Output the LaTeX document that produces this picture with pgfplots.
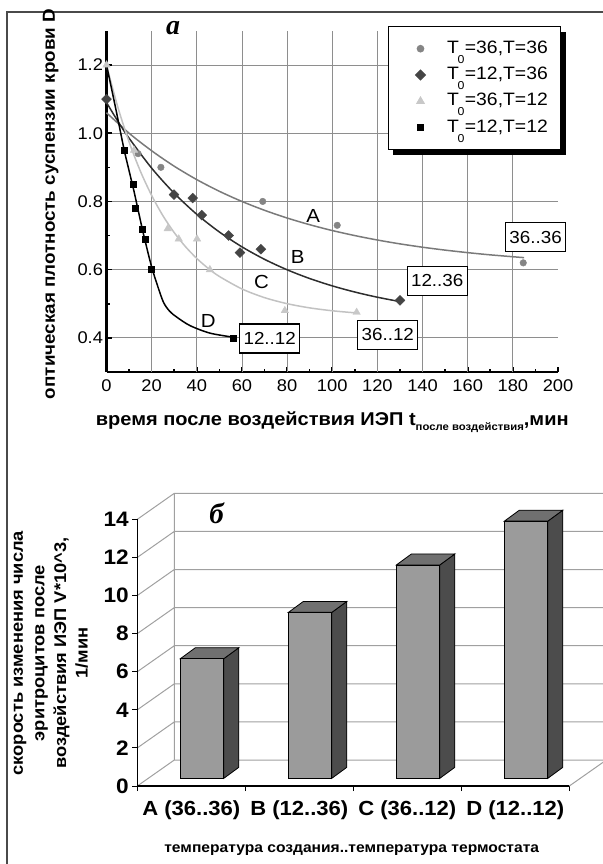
\documentclass[border=0pt]{standalone}
\usepackage{fontspec}
\setmainfont{Liberation Sans}[FakeStretch=1.08]
\newfontfamily\panelfont{Liberation Serif}
\usepackage{pgfplots}
\pgfplotsset{compat=1.18}
\usetikzlibrary{shadows}
\definecolor{framec}{HTML}{4A4A4A}
\definecolor{gridc}{HTML}{8E8E8E}
\definecolor{ptA}{HTML}{858585}
\definecolor{lnA}{HTML}{7A7A7A}
\definecolor{ptB}{HTML}{454545}
\definecolor{lnB}{HTML}{2E2E2E}
\definecolor{ptC}{HTML}{C8C8C8}
\definecolor{lnC}{HTML}{C2C2C2}
\definecolor{wallc}{HTML}{A0A0A0}
\definecolor{barF}{HTML}{9B9B9B}
\definecolor{barS}{HTML}{4C4C4C}
\definecolor{barT}{HTML}{707070}
\pgfplotsset{/pgf/number format/assume math mode=true}
\newcommand{\fs}[1]{\fontsize{#1}{#1}\selectfont}
\newcommand{\Tz}{T\kern-1.5bp\raisebox{-10bp}{\fs{11.5}0}\kern0.5bp}

\begin{document}
\begin{tikzpicture}[x=1bp,y=1bp]
\path[use as bounding box] (0,0) rectangle (603,-864);
\draw[framec, line width=2.5bp] (7,-866) -- (7,-12) -- (605,-12);

% ---------------- panel a ----------------
\begin{axis}[
  at={(106.5bp,-372bp)}, anchor=south west, scale only axis,
  width=451.5bp, height=341.15bp,
  xmin=0, xmax=200, ymin=0.3, ymax=1.3, clip=false,
  axis x line*=bottom, axis y line*=left,
  axis line style={line width=2.2bp, black},
  xtick={0,20,...,200}, minor x tick num=1,
  ytick={0.4,0.6,0.8,1.0,1.2}, minor ytick={0.5,0.7,0.9,1.1},
  ymajorgrids,
  extra x ticks={20,40,...,180}, extra x tick labels={},
  extra x tick style={grid=major, major tick length=0pt},
  grid style={gridc, line width=0.9bp},
  tick align=inside, major tick length=5bp, minor tick length=3bp,
  tick style={black, line width=1.6bp},
  ticklabel style={font=\fs{17}},
  xticklabel style={yshift=-4bp},
  yticklabel style={/pgf/number format/.cd, fixed, fixed zerofill, precision=1},
  legend style={at={(axis description cs:0.6228,1.0142)}, anchor=north west,
    draw=black, line width=1bp, fill=white,
    drop shadow={shadow xshift=5bp, shadow yshift=-5bp, fill=black, opacity=1},
    inner xsep=13bp, inner ysep=13.7bp, font=\fs{18}, row sep=9.3bp,
    nodes={inner xsep=0pt, inner ysep=0pt, text height=13bp, text depth=4bp},
    /tikz/every odd column/.append style={column sep=13.7bp}},
  legend cell align=left,
  legend image code/.code={\path[draw=none,fill=none] (0bp,-4bp) (32.3bp,4bp); \draw[#1] plot coordinates {(19.3bp,0bp)};},
]
% fitted curves
\addplot[forget plot, smooth, lnA, line width=1.5bp] coordinates {
 (0,1.060) (10,1.000) (20,0.9485) (30,0.9032) (40,0.8639) (50,0.8297) (60,0.7999)
 (70,0.7740) (80,0.7514) (90,0.7318) (100,0.7147) (110,0.6999) (120,0.6869)
 (130,0.6756) (140,0.6658) (150,0.6573) (160,0.6499) (170,0.6434) (185,0.6352)};
\addplot[forget plot, smooth, lnB, line width=1.5bp] coordinates {
 (0,1.09) (5,1.0354) (10,0.9854) (20,0.8976) (30,0.8240) (40,0.7622) (50,0.7104)
 (60,0.6669) (70,0.6303) (80,0.5997) (90,0.5740) (100,0.5525) (110,0.5344)
 (120,0.5192) (130,0.5064)};
\addplot[forget plot, smooth, lnC, line width=1.5bp] coordinates {
 (0,1.20) (5,1.0770) (10,0.9744) (15,0.8888) (20,0.8176) (25,0.7581) (30,0.7086)
 (35,0.6673) (40,0.6328) (45,0.6041) (50,0.5801) (60,0.5435) (70,0.5180)
 (80,0.5003) (90,0.4880) (100,0.4795) (110,0.4735)};
\addplot[forget plot, smooth, black, line width=1.5bp] coordinates {
 (0,1.2) (4,1.075) (7.7,0.955) (10,0.89) (12,0.835) (14,0.775) (16,0.715) (18,0.66)
 (20,0.608) (22.2,0.561) (25.2,0.505) (28,0.478) (31.1,0.461) (37,0.436)
 (45.8,0.414) (56.2,0.402)};
% data points
\addplot[only marks, mark=*, mark size=3.3bp, ptA, mark options={draw=ptA, fill=ptA}] coordinates {
 (14,0.94) (24.1,0.90) (69.2,0.80) (102.2,0.73) (184.6,0.62)};
\addlegendentry{\Tz=36,T=36}
\addplot[only marks, mark=square*, mark size=3.5bp, ptB, mark options={draw=ptB, fill=ptB, rotate=45}] coordinates {
 (0,1.1) (29.9,0.82) (38.2,0.81) (42.2,0.76) (54.1,0.70) (59.1,0.65) (68.4,0.66) (130,0.51)};
\addlegendentry{\Tz=12,T=36}
\addplot[only marks, mark=triangle*, mark size=4.3bp, ptC, mark options={draw=ptC, fill=ptC}] coordinates {
 (0,1.2) (12.2,0.95) (27.1,0.72) (32,0.69) (40.1,0.69) (45.8,0.60) (79,0.48) (110.8,0.475)};
\addlegendentry{\Tz=36,T=12}
\addplot[only marks, mark=square*, mark size=3bp, black] coordinates {
 (7.7,0.95) (11.9,0.85) (12.8,0.78) (16,0.72) (17,0.69) (20,0.60) (56.2,0.40)};
\addlegendentry{\Tz=12,T=12}
% labels
\node[font=\fs{19}] at (axis cs:91.6,0.758) {A};
\node[font=\fs{19}] at (axis cs:84.7,0.636) {B};
\node[font=\fs{19}] at (axis cs:68.7,0.565) {C};
\node[font=\fs{19}] at (axis cs:45.1,0.451) {D};
\tikzset{lbox/.style={draw=black, line width=1.2bp, fill=white, minimum width=60bp, minimum height=29bp, inner sep=0pt, font=\fs{17.5}}}
\node[lbox] at (axis cs:72.3,0.398) {12..12};
\node[lbox] at (axis cs:124.6,0.409) {36..12};
\node[lbox] at (axis cs:146.5,0.567) {12..36};
\node[lbox] at (axis cs:190.1,0.695) {36..36};
\node[font=\panelfont\bfseries\itshape\fs{28}] at (axis description cs:0.1473,1.0084) {a};
\node[anchor=base, font=\bfseries\fs{18.6}] at (axis description cs:0.5,-0.1568)
  {время после воздействия ИЭП t\raisebox{-5bp}{\fs{10.5}после воздействия},мин};
\node[anchor=base, rotate=90, font=\bfseries\fs{17.5}] at (axis description cs:-0.1141,0.4925)
  {оптическая плотность суспензии крови D};
\end{axis}

% ---------------- panel b ----------------
\begin{axis}[
  at={(137.3bp,-786bp)}, anchor=south west, scale only axis,
  width=469.8bp, height=293.37bp,
  xmin=0, xmax=4.35, ymin=0, ymax=15.4, clip=false,
  axis x line*=bottom, axis y line*=left, axis line style={draw=none},
  ytick={0,2,...,14},
  xtick={0.5,1.5,2.5,3.5},
  xticklabels={A (36..36),B (12..36),C (36..12),D (12..12)},
  minor xtick={0,1,2,3,4},
  major x tick style={draw=none},
  tick align=outside, major tick length=5bp, minor tick length=5bp,
  tick style={black, line width=1bp},
  yticklabel style={font=\bfseries\fs{21}},
  xticklabel style={font=\bfseries\fs{20.5}, yshift=-6bp},
  unbounded coords=jump,
]
% walls and floor
\addplot[wallc, line width=1bp] coordinates {
 (0,0) (0.3426,1.365) (0,nan)
 (0,2) (0.3426,3.365) (0,nan)
 (0,4) (0.3426,5.365) (0,nan)
 (0,6) (0.3426,7.365) (0,nan)
 (0,8) (0.3426,9.365) (0,nan)
 (0,10) (0.3426,11.365) (0,nan)
 (0,12) (0.3426,13.365) (0,nan)
 (0,14) (0.3426,15.365) (0,nan)
 (0.3426,1.365) (4.3426,1.365) (0,nan)
 (0.3426,3.365) (4.3426,3.365) (0,nan)
 (0.3426,5.365) (4.3426,5.365) (0,nan)
 (0.3426,7.365) (4.3426,7.365) (0,nan)
 (0.3426,9.365) (4.3426,9.365) (0,nan)
 (0.3426,11.365) (4.3426,11.365) (0,nan)
 (0.3426,13.365) (4.3426,13.365) (0,nan)
 (0.3426,15.365) (4.3426,15.365) (0,nan)
 (0.3426,1.365) (0.3426,15.365) (0,nan)
 (4,0) (4.3426,1.365)};
\addplot[black, line width=1.3bp] coordinates {(0,14) (0,0) (4,0)};
% bars: front, side, top faces
\tikzset{bf/.style={draw=black, line width=0.8bp, fill=barF}, bs/.style={draw=black, line width=0.8bp, fill=barS}, bt/.style={draw=black, line width=0.8bp, fill=barT}}
% A = 6.28
\addplot[bs] coordinates {(0.801,0.404) (0.940,0.981) (0.940,7.261) (0.801,6.684)} -- cycle;
\addplot[bt] coordinates {(0.399,6.684) (0.538,7.261) (0.940,7.261) (0.801,6.684)} -- cycle;
\addplot[bf] coordinates {(0.399,0.404) (0.801,0.404) (0.801,6.684) (0.399,6.684)} -- cycle;
% B = 8.71
\addplot[bs] coordinates {(1.801,0.404) (1.940,0.981) (1.940,9.691) (1.801,9.114)} -- cycle;
\addplot[bt] coordinates {(1.399,9.114) (1.538,9.691) (1.940,9.691) (1.801,9.114)} -- cycle;
\addplot[bf] coordinates {(1.399,0.404) (1.801,0.404) (1.801,9.114) (1.399,9.114)} -- cycle;
% C = 11.2
\addplot[bs] coordinates {(2.801,0.404) (2.940,0.981) (2.940,12.181) (2.801,11.604)} -- cycle;
\addplot[bt] coordinates {(2.399,11.604) (2.538,12.181) (2.940,12.181) (2.801,11.604)} -- cycle;
\addplot[bf] coordinates {(2.399,0.404) (2.801,0.404) (2.801,11.604) (2.399,11.604)} -- cycle;
% D = 13.5
\addplot[bs] coordinates {(3.801,0.404) (3.940,0.981) (3.940,14.481) (3.801,13.904)} -- cycle;
\addplot[bt] coordinates {(3.399,13.904) (3.538,14.481) (3.940,14.481) (3.801,13.904)} -- cycle;
\addplot[bf] coordinates {(3.399,0.404) (3.801,0.404) (3.801,13.904) (3.399,13.904)} -- cycle;
\node[font=\panelfont\bfseries\itshape\fs{29}] at (axis cs:0.735,14.3) {б};
\node[anchor=center, font=\bfseries\fs{14.5}] at (axis description cs:0.4564,-0.218)
  {температура создания..температура термостата};
\node[anchor=center, rotate=90, align=center, font=\bfseries\fontsize{17}{21.7}\selectfont] at (axis description cs:-0.184,0.453)
  {скорость изменения числа\\эритроцитов после\\воздействия ИЭП V*10\^{}3,\\1/мин};
\end{axis}
\end{tikzpicture}
\end{document}
